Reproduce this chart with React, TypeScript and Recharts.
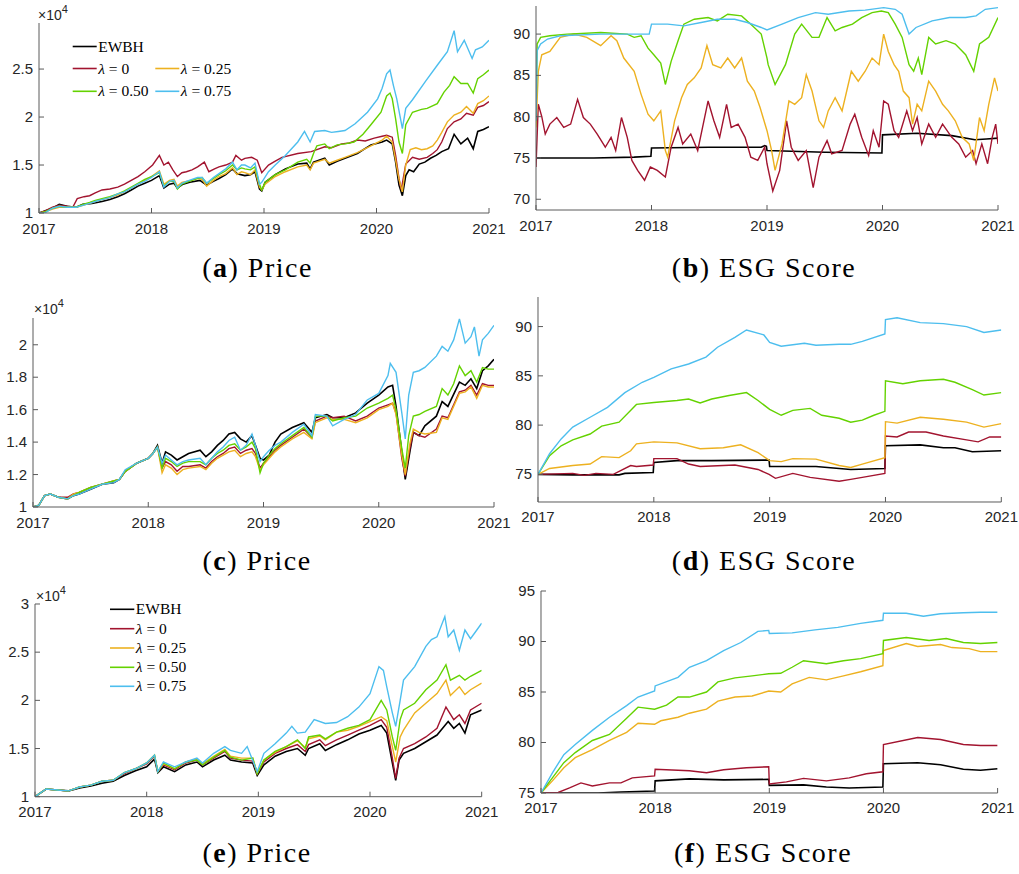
import React from 'react';
import { LineChart, Line, XAxis, YAxis } from 'recharts';

type Pt = [number, number];

const YEARS = [2017, 2018, 2019, 2020, 2021];
const SERIES_NAMES = ['EWBH', 'λ = 0', 'λ = 0.25', 'λ = 0.50', 'λ = 0.75'];
const COLORS = ['#000000', '#A2142F', '#EDB120', '#64D200', '#4DBEEE'];

const PRICE_TICKS_A = [1, 1.5, 2, 2.5];
const ESG_TICKS_B = [70, 75, 80, 85, 90];
const PRICE_TICKS_C = [1, 1.2, 1.4, 1.6, 1.8, 2];
const ESG_TICKS_D = [75, 80, 85, 90];
const PRICE_TICKS_E = [1, 1.5, 2, 2.5, 3];
const ESG_TICKS_F = [75, 80, 85, 90, 95];

// ---------- Panel (a): Price (x 10^4) ----------
const A_EWBH: Pt[] = [[2017.0,1.0],[2017.05,1.02],[2017.12,1.05],[2017.18,1.09],[2017.25,1.07],[2017.33,1.06],[2017.39,1.09],[2017.47,1.10],[2017.56,1.12],[2017.63,1.14],[2017.7,1.17],[2017.76,1.20],[2017.82,1.24],[2017.88,1.28],[2017.94,1.31],[2018.0,1.34],[2018.07,1.39],[2018.11,1.26],[2018.16,1.30],[2018.2,1.31],[2018.23,1.26],[2018.28,1.30],[2018.34,1.32],[2018.43,1.34],[2018.49,1.29],[2018.55,1.33],[2018.6,1.36],[2018.66,1.40],[2018.72,1.46],[2018.76,1.41],[2018.83,1.39],[2018.88,1.40],[2018.92,1.43],[2018.96,1.25],[2018.98,1.23],[2019.01,1.32],[2019.1,1.40],[2019.19,1.46],[2019.3,1.51],[2019.38,1.52],[2019.41,1.46],[2019.44,1.53],[2019.54,1.57],[2019.58,1.50],[2019.65,1.54],[2019.72,1.57],[2019.83,1.62],[2019.95,1.71],[2020.05,1.74],[2020.09,1.76],[2020.14,1.72],[2020.17,1.53],[2020.2,1.29],[2020.23,1.18],[2020.26,1.39],[2020.29,1.45],[2020.33,1.43],[2020.38,1.51],[2020.43,1.53],[2020.48,1.57],[2020.53,1.60],[2020.58,1.64],[2020.64,1.67],[2020.69,1.82],[2020.75,1.72],[2020.81,1.78],[2020.86,1.67],[2020.9,1.85],[2020.95,1.87],[2021.0,1.90]];
const A_L0: Pt[] = [[2017.0,1.0],[2017.05,1.02],[2017.12,1.06],[2017.18,1.08],[2017.25,1.07],[2017.3,1.06],[2017.34,1.15],[2017.4,1.17],[2017.45,1.18],[2017.5,1.21],[2017.56,1.24],[2017.63,1.25],[2017.7,1.27],[2017.76,1.30],[2017.82,1.34],[2017.88,1.38],[2017.94,1.43],[2018.01,1.50],[2018.07,1.60],[2018.11,1.50],[2018.15,1.53],[2018.19,1.45],[2018.23,1.38],[2018.27,1.42],[2018.31,1.43],[2018.36,1.45],[2018.41,1.48],[2018.47,1.53],[2018.51,1.43],[2018.56,1.46],[2018.6,1.48],[2018.66,1.50],[2018.72,1.53],[2018.75,1.60],[2018.8,1.55],[2018.83,1.57],[2018.89,1.58],[2018.94,1.55],[2018.98,1.42],[2019.04,1.50],[2019.1,1.54],[2019.16,1.58],[2019.3,1.62],[2019.42,1.64],[2019.47,1.66],[2019.54,1.69],[2019.6,1.68],[2019.69,1.72],[2019.76,1.73],[2019.83,1.76],[2019.9,1.75],[2019.98,1.78],[2020.05,1.80],[2020.09,1.81],[2020.14,1.79],[2020.17,1.60],[2020.2,1.36],[2020.22,1.24],[2020.26,1.51],[2020.32,1.58],[2020.38,1.56],[2020.45,1.58],[2020.5,1.62],[2020.54,1.66],[2020.58,1.74],[2020.63,1.88],[2020.69,1.95],[2020.75,1.98],[2020.8,2.04],[2020.86,2.02],[2020.9,2.10],[2020.95,2.12],[2021.0,2.16]];
const A_L25: Pt[] = [[2017.0,1.0],[2017.05,1.01],[2017.12,1.04],[2017.18,1.06],[2017.25,1.06],[2017.33,1.06],[2017.39,1.08],[2017.45,1.10],[2017.5,1.12],[2017.56,1.14],[2017.63,1.16],[2017.7,1.19],[2017.76,1.22],[2017.82,1.26],[2017.88,1.30],[2017.94,1.34],[2018.0,1.38],[2018.07,1.44],[2018.11,1.30],[2018.16,1.34],[2018.2,1.35],[2018.23,1.28],[2018.27,1.32],[2018.31,1.33],[2018.36,1.34],[2018.41,1.36],[2018.45,1.35],[2018.49,1.28],[2018.55,1.34],[2018.6,1.38],[2018.66,1.41],[2018.72,1.47],[2018.76,1.40],[2018.8,1.43],[2018.83,1.42],[2018.88,1.40],[2018.92,1.45],[2018.96,1.27],[2018.98,1.24],[2019.01,1.30],[2019.1,1.38],[2019.19,1.43],[2019.3,1.48],[2019.38,1.50],[2019.41,1.45],[2019.44,1.52],[2019.54,1.56],[2019.58,1.52],[2019.65,1.55],[2019.72,1.58],[2019.83,1.63],[2019.95,1.70],[2020.05,1.76],[2020.09,1.80],[2020.14,1.74],[2020.17,1.55],[2020.2,1.35],[2020.23,1.22],[2020.26,1.50],[2020.3,1.66],[2020.35,1.68],[2020.4,1.66],[2020.45,1.67],[2020.5,1.70],[2020.54,1.76],[2020.58,1.84],[2020.63,1.95],[2020.69,2.02],[2020.75,2.05],[2020.8,2.11],[2020.86,2.04],[2020.9,2.14],[2020.95,2.17],[2021.0,2.22]];
const A_L50: Pt[] = [[2017.0,1.0],[2017.05,1.01],[2017.12,1.05],[2017.18,1.07],[2017.25,1.06],[2017.33,1.06],[2017.39,1.09],[2017.45,1.11],[2017.5,1.13],[2017.56,1.15],[2017.63,1.17],[2017.7,1.20],[2017.76,1.23],[2017.82,1.27],[2017.88,1.31],[2017.94,1.35],[2018.0,1.38],[2018.07,1.42],[2018.11,1.28],[2018.16,1.33],[2018.2,1.33],[2018.23,1.25],[2018.27,1.30],[2018.31,1.32],[2018.36,1.34],[2018.41,1.36],[2018.45,1.37],[2018.49,1.31],[2018.55,1.36],[2018.6,1.40],[2018.66,1.44],[2018.72,1.50],[2018.76,1.45],[2018.8,1.47],[2018.83,1.46],[2018.88,1.45],[2018.92,1.48],[2018.96,1.30],[2018.98,1.24],[2019.01,1.32],[2019.1,1.40],[2019.19,1.45],[2019.3,1.53],[2019.38,1.56],[2019.41,1.52],[2019.44,1.62],[2019.47,1.70],[2019.54,1.72],[2019.58,1.67],[2019.65,1.71],[2019.72,1.72],[2019.8,1.74],[2019.88,1.82],[2019.95,1.92],[2020.04,2.05],[2020.09,2.22],[2020.12,2.25],[2020.14,2.19],[2020.17,1.98],[2020.2,1.74],[2020.23,1.62],[2020.26,1.92],[2020.32,2.05],[2020.4,2.08],[2020.45,2.09],[2020.54,2.14],[2020.6,2.26],[2020.65,2.33],[2020.69,2.42],[2020.75,2.35],[2020.81,2.35],[2020.86,2.25],[2020.9,2.40],[2020.95,2.44],[2021.0,2.49]];
const A_L75: Pt[] = [[2017.0,1.0],[2017.05,1.0],[2017.12,1.05],[2017.18,1.07],[2017.25,1.06],[2017.33,1.06],[2017.39,1.08],[2017.45,1.10],[2017.5,1.12],[2017.56,1.14],[2017.63,1.16],[2017.7,1.20],[2017.76,1.22],[2017.82,1.26],[2017.88,1.30],[2017.94,1.33],[2018.0,1.37],[2018.07,1.43],[2018.11,1.27],[2018.16,1.33],[2018.2,1.34],[2018.23,1.26],[2018.27,1.31],[2018.31,1.33],[2018.36,1.35],[2018.41,1.37],[2018.45,1.37],[2018.49,1.31],[2018.55,1.37],[2018.6,1.41],[2018.66,1.46],[2018.72,1.53],[2018.76,1.45],[2018.8,1.50],[2018.83,1.50],[2018.88,1.47],[2018.92,1.52],[2018.96,1.30],[2018.98,1.32],[2019.04,1.43],[2019.1,1.50],[2019.19,1.60],[2019.3,1.74],[2019.36,1.85],[2019.41,1.74],[2019.45,1.85],[2019.54,1.86],[2019.6,1.84],[2019.66,1.85],[2019.72,1.86],[2019.81,1.93],[2019.92,2.05],[2020.01,2.19],[2020.05,2.30],[2020.09,2.45],[2020.12,2.49],[2020.15,2.33],[2020.18,2.19],[2020.23,1.88],[2020.26,2.09],[2020.32,2.18],[2020.44,2.38],[2020.54,2.54],[2020.63,2.68],[2020.69,2.90],[2020.72,2.68],[2020.78,2.80],[2020.85,2.61],[2020.88,2.70],[2020.94,2.73],[2021.0,2.80]];

// ---------- Panel (b): ESG Score ----------
const B_EWBH: Pt[] = [[2017.0,75.0],[2017.5,75.0],[2017.85,75.1],[2017.995,75.2],[2018.0,76.2],[2018.5,76.3],[2018.95,76.3],[2018.98,76.5],[2018.995,76.4],[2019.0,75.9],[2019.5,75.7],[2019.995,75.6],[2020.0,77.8],[2020.3,78.0],[2020.6,77.7],[2020.8,77.2],[2020.9,77.3],[2021.0,77.4]];
const B_L0: Pt[] = [[2017.0,73.9],[2017.02,81.5],[2017.05,80.0],[2017.08,77.9],[2017.12,79.1],[2017.18,79.9],[2017.24,78.7],[2017.3,79.1],[2017.36,82.1],[2017.41,79.9],[2017.47,79.1],[2017.53,77.9],[2017.6,76.3],[2017.65,77.5],[2017.69,75.9],[2017.74,79.9],[2017.79,77.5],[2017.83,74.7],[2017.88,73.5],[2017.94,72.3],[2017.99,73.9],[2018.05,73.5],[2018.12,72.7],[2018.17,76.3],[2018.23,78.7],[2018.27,76.7],[2018.34,77.9],[2018.4,75.9],[2018.49,81.9],[2018.54,79.5],[2018.59,77.5],[2018.65,81.5],[2018.69,78.7],[2018.75,79.1],[2018.81,77.5],[2018.86,75.1],[2018.92,74.7],[2018.98,76.3],[2019.0,74.3],[2019.05,71.0],[2019.11,73.5],[2019.17,79.5],[2019.21,76.3],[2019.27,74.7],[2019.34,75.9],[2019.4,71.4],[2019.45,75.1],[2019.52,77.1],[2019.56,75.5],[2019.65,75.9],[2019.72,79.1],[2019.76,80.3],[2019.82,77.5],[2019.88,75.3],[2019.92,78.3],[2019.97,76.3],[2020.01,81.9],[2020.05,81.5],[2020.1,78.3],[2020.14,77.5],[2020.21,80.7],[2020.26,78.3],[2020.3,79.9],[2020.34,76.7],[2020.4,79.1],[2020.46,77.5],[2020.52,79.1],[2020.6,77.5],[2020.66,76.7],[2020.72,75.1],[2020.78,75.9],[2020.81,74.3],[2020.86,76.7],[2020.91,74.3],[2020.95,77.5],[2020.98,79.1],[2021.0,76.7]];
const B_L25: Pt[] = [[2017.0,78.7],[2017.02,85.5],[2017.05,87.5],[2017.12,87.9],[2017.21,89.6],[2017.33,90.0],[2017.44,89.6],[2017.56,88.6],[2017.65,89.8],[2017.7,89.2],[2017.76,87.1],[2017.85,85.5],[2017.91,82.7],[2017.97,80.3],[2018.02,79.5],[2018.08,80.7],[2018.12,75.9],[2018.14,75.1],[2018.2,79.5],[2018.26,82.3],[2018.31,83.9],[2018.37,84.7],[2018.43,85.9],[2018.48,88.6],[2018.53,86.3],[2018.6,85.9],[2018.66,87.1],[2018.72,85.9],[2018.78,87.1],[2018.83,84.3],[2018.89,83.1],[2018.94,81.1],[2019.0,78.3],[2019.04,75.9],[2019.07,73.5],[2019.13,76.7],[2019.19,81.9],[2019.24,81.5],[2019.3,82.3],[2019.34,85.1],[2019.39,83.1],[2019.45,79.5],[2019.49,78.7],[2019.53,80.7],[2019.59,82.3],[2019.65,80.7],[2019.73,85.5],[2019.79,84.3],[2019.85,85.5],[2019.91,87.1],[2019.97,86.3],[2020.01,90.0],[2020.05,87.9],[2020.1,86.3],[2020.14,85.5],[2020.18,83.1],[2020.23,82.3],[2020.26,79.1],[2020.3,81.5],[2020.34,80.7],[2020.4,84.3],[2020.46,83.1],[2020.52,81.5],[2020.57,80.7],[2020.63,79.5],[2020.69,77.5],[2020.75,76.7],[2020.79,74.7],[2020.84,79.9],[2020.88,78.3],[2020.92,81.5],[2020.97,84.7],[2021.0,83.1]];
const B_L50: Pt[] = [[2017.0,79.5],[2017.01,88.8],[2017.04,89.6],[2017.12,89.8],[2017.27,90.0],[2017.56,90.2],[2017.79,90.0],[2017.85,89.6],[2017.91,89.8],[2017.97,88.3],[2018.02,87.5],[2018.08,86.5],[2018.12,83.9],[2018.17,86.7],[2018.23,89.2],[2018.28,91.2],[2018.37,91.8],[2018.49,92.0],[2018.57,91.6],[2018.66,92.4],[2018.78,92.2],[2018.86,91.2],[2018.95,90.0],[2019.0,87.1],[2019.01,86.3],[2019.07,83.9],[2019.16,86.3],[2019.24,90.0],[2019.3,91.2],[2019.39,89.6],[2019.45,89.6],[2019.52,92.0],[2019.59,90.4],[2019.65,90.8],[2019.74,91.2],[2019.82,92.0],[2019.91,92.6],[2019.99,92.8],[2020.05,92.6],[2020.11,91.2],[2020.17,89.6],[2020.23,86.3],[2020.27,85.5],[2020.31,87.1],[2020.34,85.1],[2020.4,89.6],[2020.46,88.8],[2020.55,89.2],[2020.63,88.8],[2020.72,87.5],[2020.79,85.5],[2020.84,88.8],[2020.92,89.6],[2021.0,92.0]];
const B_L75: Pt[] = [[2017.0,79.5],[2017.01,88.0],[2017.04,88.8],[2017.1,89.4],[2017.21,89.8],[2017.56,90.0],[2017.98,90.0],[2018.0,91.2],[2018.14,91.2],[2018.28,91.0],[2018.43,91.4],[2018.57,91.8],[2018.72,91.8],[2018.83,91.4],[2018.95,90.8],[2019.0,90.5],[2019.13,91.2],[2019.27,92.0],[2019.42,92.6],[2019.53,92.4],[2019.71,92.8],[2019.85,92.9],[2020.01,93.2],[2020.11,93.0],[2020.17,92.4],[2020.21,90.8],[2020.23,90.0],[2020.29,90.8],[2020.43,91.6],[2020.58,92.0],[2020.72,92.0],[2020.81,92.2],[2020.89,93.0],[2021.0,93.2]];

// ---------- Panel (c): Price (x 10^4) ----------
const C_EWBH: Pt[] = [[2017.0,1.0],[2017.05,1.01],[2017.1,1.07],[2017.15,1.08],[2017.22,1.06],[2017.3,1.05],[2017.35,1.07],[2017.4,1.08],[2017.5,1.11],[2017.6,1.14],[2017.7,1.15],[2017.75,1.17],[2017.8,1.22],[2017.9,1.27],[2018.0,1.30],[2018.04,1.33],[2018.08,1.38],[2018.12,1.27],[2018.15,1.34],[2018.2,1.32],[2018.25,1.29],[2018.3,1.31],[2018.35,1.33],[2018.45,1.35],[2018.5,1.31],[2018.55,1.34],[2018.6,1.38],[2018.65,1.41],[2018.7,1.45],[2018.75,1.46],[2018.8,1.42],[2018.85,1.40],[2018.9,1.44],[2018.93,1.38],[2018.97,1.30],[2019.0,1.29],[2019.05,1.32],[2019.1,1.40],[2019.15,1.45],[2019.25,1.49],[2019.35,1.52],[2019.42,1.46],[2019.45,1.55],[2019.55,1.57],[2019.6,1.55],[2019.7,1.55],[2019.8,1.58],[2019.9,1.64],[2020.0,1.69],[2020.08,1.74],[2020.12,1.75],[2020.15,1.62],[2020.2,1.34],[2020.23,1.17],[2020.27,1.34],[2020.3,1.46],[2020.35,1.44],[2020.4,1.50],[2020.5,1.56],[2020.55,1.65],[2020.6,1.62],[2020.7,1.77],[2020.75,1.75],[2020.8,1.79],[2020.85,1.73],[2020.9,1.84],[2020.95,1.87],[2021.0,1.91]];
const C_L0: Pt[] = [[2017.0,1.0],[2017.05,1.01],[2017.1,1.07],[2017.15,1.08],[2017.22,1.06],[2017.3,1.06],[2017.35,1.08],[2017.4,1.09],[2017.5,1.12],[2017.6,1.14],[2017.7,1.16],[2017.75,1.17],[2017.8,1.22],[2017.9,1.27],[2018.0,1.30],[2018.04,1.33],[2018.08,1.37],[2018.12,1.24],[2018.15,1.28],[2018.2,1.26],[2018.25,1.22],[2018.3,1.25],[2018.35,1.25],[2018.45,1.26],[2018.5,1.24],[2018.55,1.28],[2018.6,1.31],[2018.65,1.33],[2018.7,1.36],[2018.75,1.37],[2018.8,1.33],[2018.85,1.35],[2018.9,1.36],[2018.93,1.33],[2018.97,1.24],[2019.0,1.27],[2019.05,1.31],[2019.1,1.35],[2019.15,1.38],[2019.25,1.43],[2019.35,1.48],[2019.42,1.43],[2019.45,1.53],[2019.55,1.56],[2019.6,1.55],[2019.7,1.56],[2019.8,1.53],[2019.9,1.56],[2020.0,1.61],[2020.08,1.63],[2020.12,1.64],[2020.15,1.58],[2020.2,1.30],[2020.23,1.19],[2020.27,1.36],[2020.3,1.46],[2020.35,1.44],[2020.4,1.43],[2020.5,1.48],[2020.55,1.56],[2020.6,1.55],[2020.7,1.71],[2020.75,1.72],[2020.8,1.75],[2020.85,1.69],[2020.9,1.76],[2020.95,1.75],[2021.0,1.75]];
const C_L25: Pt[] = [[2017.0,1.0],[2017.05,1.01],[2017.1,1.07],[2017.15,1.08],[2017.22,1.06],[2017.3,1.05],[2017.35,1.08],[2017.4,1.09],[2017.5,1.12],[2017.6,1.14],[2017.7,1.16],[2017.75,1.17],[2017.8,1.22],[2017.9,1.27],[2018.0,1.30],[2018.04,1.33],[2018.08,1.37],[2018.12,1.21],[2018.15,1.26],[2018.2,1.24],[2018.25,1.20],[2018.3,1.23],[2018.35,1.24],[2018.45,1.25],[2018.5,1.23],[2018.55,1.27],[2018.6,1.30],[2018.65,1.32],[2018.7,1.34],[2018.75,1.35],[2018.8,1.31],[2018.85,1.33],[2018.9,1.34],[2018.93,1.31],[2018.97,1.23],[2019.0,1.26],[2019.05,1.30],[2019.1,1.34],[2019.15,1.37],[2019.25,1.42],[2019.35,1.46],[2019.42,1.42],[2019.45,1.52],[2019.55,1.55],[2019.6,1.54],[2019.7,1.54],[2019.8,1.52],[2019.9,1.55],[2020.0,1.60],[2020.08,1.62],[2020.12,1.64],[2020.15,1.57],[2020.2,1.32],[2020.23,1.20],[2020.27,1.39],[2020.3,1.48],[2020.35,1.46],[2020.4,1.45],[2020.5,1.46],[2020.55,1.55],[2020.6,1.54],[2020.7,1.70],[2020.75,1.71],[2020.8,1.74],[2020.85,1.67],[2020.9,1.75],[2020.95,1.74],[2021.0,1.74]];
const C_L50: Pt[] = [[2017.0,1.0],[2017.05,1.01],[2017.1,1.07],[2017.15,1.08],[2017.22,1.06],[2017.3,1.05],[2017.35,1.07],[2017.4,1.09],[2017.5,1.12],[2017.6,1.14],[2017.7,1.16],[2017.75,1.17],[2017.8,1.22],[2017.9,1.27],[2018.0,1.30],[2018.04,1.33],[2018.08,1.37],[2018.12,1.24],[2018.15,1.30],[2018.2,1.28],[2018.25,1.25],[2018.3,1.27],[2018.35,1.28],[2018.45,1.28],[2018.5,1.26],[2018.55,1.30],[2018.6,1.33],[2018.65,1.35],[2018.7,1.38],[2018.75,1.39],[2018.8,1.35],[2018.85,1.37],[2018.9,1.40],[2018.93,1.36],[2018.97,1.21],[2019.0,1.27],[2019.05,1.32],[2019.1,1.36],[2019.15,1.39],[2019.25,1.44],[2019.35,1.49],[2019.42,1.43],[2019.45,1.56],[2019.55,1.56],[2019.6,1.53],[2019.7,1.55],[2019.8,1.56],[2019.9,1.61],[2020.0,1.64],[2020.08,1.67],[2020.12,1.69],[2020.15,1.60],[2020.2,1.36],[2020.23,1.24],[2020.26,1.44],[2020.3,1.56],[2020.35,1.57],[2020.4,1.59],[2020.5,1.62],[2020.55,1.73],[2020.6,1.69],[2020.65,1.76],[2020.7,1.87],[2020.75,1.81],[2020.8,1.84],[2020.85,1.77],[2020.9,1.86],[2020.95,1.85],[2021.0,1.85]];
const C_L75: Pt[] = [[2017.0,1.0],[2017.05,1.01],[2017.1,1.07],[2017.15,1.08],[2017.22,1.06],[2017.3,1.05],[2017.35,1.07],[2017.4,1.08],[2017.5,1.11],[2017.6,1.14],[2017.7,1.15],[2017.75,1.17],[2017.8,1.23],[2017.9,1.27],[2018.0,1.30],[2018.04,1.33],[2018.08,1.37],[2018.12,1.27],[2018.15,1.32],[2018.2,1.29],[2018.25,1.26],[2018.3,1.28],[2018.35,1.29],[2018.45,1.30],[2018.5,1.26],[2018.55,1.30],[2018.6,1.34],[2018.65,1.37],[2018.7,1.41],[2018.75,1.43],[2018.8,1.35],[2018.85,1.38],[2018.9,1.45],[2018.93,1.38],[2018.97,1.28],[2019.0,1.31],[2019.05,1.35],[2019.1,1.38],[2019.15,1.40],[2019.25,1.46],[2019.35,1.51],[2019.42,1.44],[2019.45,1.57],[2019.55,1.56],[2019.6,1.50],[2019.7,1.54],[2019.8,1.57],[2019.9,1.66],[2020.0,1.70],[2020.08,1.81],[2020.1,1.885],[2020.15,1.83],[2020.2,1.58],[2020.23,1.42],[2020.26,1.69],[2020.3,1.83],[2020.35,1.84],[2020.4,1.86],[2020.5,1.93],[2020.55,1.99],[2020.6,1.96],[2020.65,2.03],[2020.7,2.16],[2020.75,2.01],[2020.8,2.05],[2020.83,2.11],[2020.87,1.93],[2020.9,2.03],[2020.95,2.07],[2021.0,2.12]];

// ---------- Panel (d): ESG Score ----------
const D_EWBH: Pt[] = [[2017.0,75.0],[2017.3,74.95],[2017.7,74.95],[2017.75,75.1],[2017.995,75.2],[2018.0,76.2],[2018.2,76.4],[2018.5,76.4],[2018.995,76.45],[2019.0,75.8],[2019.4,75.8],[2019.7,75.5],[2019.995,75.6],[2020.0,77.9],[2020.3,78.0],[2020.5,77.7],[2020.6,77.7],[2020.75,77.3],[2021.0,77.4]];
const D_L0: Pt[] = [[2017.0,75.0],[2017.3,75.1],[2017.4,74.9],[2017.5,75.1],[2017.65,75.0],[2017.8,75.9],[2017.85,75.8],[2017.995,75.95],[2018.0,76.6],[2018.2,76.6],[2018.3,76.05],[2018.4,75.8],[2018.7,75.95],[2018.9,75.5],[2018.995,75.0],[2019.05,74.6],[2019.2,75.1],[2019.35,74.7],[2019.6,74.3],[2019.7,74.5],[2019.8,74.7],[2019.995,75.1],[2020.0,78.9],[2020.1,78.8],[2020.2,79.3],[2020.35,79.3],[2020.5,78.9],[2020.7,78.5],[2020.8,78.3],[2020.9,78.8],[2021.0,78.8]];
const D_L25: Pt[] = [[2017.0,75.0],[2017.1,75.6],[2017.3,75.9],[2017.45,76.05],[2017.55,76.8],[2017.7,76.7],[2017.8,77.4],[2017.85,78.1],[2018.0,78.3],[2018.2,78.2],[2018.4,77.6],[2018.6,77.7],[2018.75,78.0],[2018.9,77.2],[2019.0,76.4],[2019.1,76.3],[2019.2,76.6],[2019.4,76.55],[2019.6,75.9],[2019.7,75.7],[2019.8,76.05],[2019.995,76.7],[2020.0,80.35],[2020.1,80.2],[2020.3,80.8],[2020.5,80.6],[2020.7,80.3],[2020.85,79.8],[2021.0,80.15]];
const D_L50: Pt[] = [[2017.0,75.0],[2017.1,76.9],[2017.2,77.9],[2017.3,78.5],[2017.45,79.1],[2017.55,79.9],[2017.7,80.3],[2017.85,82.1],[2018.0,82.3],[2018.2,82.5],[2018.3,82.65],[2018.4,82.25],[2018.5,82.65],[2018.65,83.0],[2018.8,83.3],[2018.9,82.5],[2019.0,81.6],[2019.1,81.0],[2019.2,81.5],[2019.35,81.7],[2019.45,81.0],[2019.6,80.7],[2019.7,80.3],[2019.8,80.5],[2019.9,81.0],[2019.995,81.4],[2020.0,84.5],[2020.15,84.2],[2020.3,84.5],[2020.5,84.65],[2020.6,84.35],[2020.75,83.6],[2020.85,83.05],[2021.0,83.3]];
const D_L75: Pt[] = [[2017.0,75.0],[2017.1,77.1],[2017.2,78.6],[2017.3,79.8],[2017.45,80.8],[2017.6,81.8],[2017.75,83.3],[2017.9,84.35],[2018.0,84.85],[2018.15,85.7],[2018.3,86.2],[2018.45,86.9],[2018.55,87.9],[2018.7,88.9],[2018.8,89.65],[2018.95,89.15],[2019.0,88.4],[2019.1,88.0],[2019.3,88.3],[2019.4,88.1],[2019.6,88.2],[2019.7,88.2],[2019.8,88.5],[2019.995,89.25],[2020.0,90.7],[2020.1,90.9],[2020.3,90.4],[2020.5,90.3],[2020.7,90.0],[2020.85,89.4],[2021.0,89.65]];

// ---------- Panel (e): Price (x 10^4) ----------
const E_EWBH: Pt[] = [[2017.0,1.0],[2017.1,1.08],[2017.2,1.07],[2017.3,1.06],[2017.4,1.09],[2017.5,1.11],[2017.6,1.14],[2017.7,1.16],[2017.8,1.22],[2017.9,1.27],[2018.0,1.31],[2018.07,1.39],[2018.1,1.25],[2018.15,1.31],[2018.25,1.26],[2018.35,1.33],[2018.45,1.36],[2018.5,1.31],[2018.6,1.38],[2018.7,1.43],[2018.75,1.38],[2018.85,1.36],[2018.95,1.35],[2018.99,1.22],[2019.05,1.33],[2019.15,1.42],[2019.25,1.47],[2019.35,1.50],[2019.42,1.43],[2019.45,1.50],[2019.55,1.55],[2019.6,1.48],[2019.7,1.54],[2019.8,1.59],[2019.9,1.65],[2020.0,1.69],[2020.1,1.74],[2020.15,1.66],[2020.2,1.35],[2020.23,1.17],[2020.26,1.38],[2020.3,1.45],[2020.4,1.50],[2020.5,1.57],[2020.6,1.64],[2020.65,1.71],[2020.7,1.78],[2020.75,1.71],[2020.8,1.76],[2020.85,1.66],[2020.9,1.85],[2021.0,1.90]];
const E_L0: Pt[] = [[2017.0,1.0],[2017.1,1.08],[2017.2,1.07],[2017.3,1.06],[2017.4,1.10],[2017.5,1.12],[2017.6,1.16],[2017.7,1.17],[2017.8,1.24],[2017.9,1.29],[2018.0,1.34],[2018.07,1.42],[2018.1,1.26],[2018.15,1.33],[2018.25,1.28],[2018.35,1.35],[2018.45,1.38],[2018.5,1.33],[2018.6,1.40],[2018.7,1.47],[2018.75,1.40],[2018.85,1.38],[2018.95,1.37],[2018.99,1.24],[2019.05,1.36],[2019.15,1.45],[2019.25,1.50],[2019.35,1.54],[2019.42,1.47],[2019.45,1.54],[2019.55,1.59],[2019.6,1.53],[2019.7,1.59],[2019.8,1.64],[2019.9,1.69],[2020.0,1.74],[2020.1,1.80],[2020.15,1.72],[2020.2,1.40],[2020.23,1.19],[2020.26,1.40],[2020.3,1.50],[2020.4,1.55],[2020.5,1.62],[2020.6,1.71],[2020.68,1.93],[2020.75,1.80],[2020.8,1.85],[2020.85,1.76],[2020.9,1.90],[2021.0,1.97]];
const E_L25: Pt[] = [[2017.0,1.0],[2017.1,1.08],[2017.2,1.07],[2017.3,1.06],[2017.4,1.10],[2017.5,1.12],[2017.6,1.16],[2017.7,1.17],[2017.8,1.25],[2017.9,1.29],[2018.0,1.35],[2018.07,1.43],[2018.1,1.26],[2018.15,1.34],[2018.25,1.29],[2018.35,1.36],[2018.45,1.39],[2018.5,1.34],[2018.6,1.42],[2018.7,1.49],[2018.75,1.42],[2018.85,1.40],[2018.95,1.40],[2018.99,1.24],[2019.05,1.38],[2019.15,1.46],[2019.25,1.52],[2019.35,1.58],[2019.42,1.51],[2019.45,1.60],[2019.55,1.63],[2019.6,1.59],[2019.7,1.67],[2019.8,1.69],[2019.9,1.73],[2020.0,1.78],[2020.1,1.83],[2020.15,1.79],[2020.2,1.52],[2020.23,1.36],[2020.27,1.62],[2020.3,1.69],[2020.4,1.87],[2020.5,1.97],[2020.6,2.07],[2020.68,2.21],[2020.72,2.05],[2020.8,2.14],[2020.85,2.06],[2020.9,2.11],[2021.0,2.18]];
const E_L50: Pt[] = [[2017.0,1.0],[2017.1,1.08],[2017.2,1.07],[2017.3,1.06],[2017.4,1.10],[2017.5,1.12],[2017.6,1.16],[2017.7,1.17],[2017.8,1.25],[2017.9,1.29],[2018.0,1.35],[2018.07,1.43],[2018.1,1.26],[2018.15,1.35],[2018.25,1.29],[2018.35,1.36],[2018.45,1.38],[2018.5,1.33],[2018.6,1.41],[2018.7,1.48],[2018.75,1.41],[2018.85,1.38],[2018.95,1.40],[2018.99,1.24],[2019.05,1.38],[2019.15,1.47],[2019.25,1.52],[2019.35,1.59],[2019.42,1.50],[2019.45,1.62],[2019.55,1.64],[2019.6,1.60],[2019.7,1.67],[2019.8,1.71],[2019.9,1.74],[2020.0,1.80],[2020.1,2.00],[2020.15,1.90],[2020.2,1.62],[2020.23,1.48],[2020.27,1.80],[2020.3,1.90],[2020.4,1.97],[2020.5,2.11],[2020.6,2.21],[2020.68,2.37],[2020.72,2.21],[2020.8,2.26],[2020.85,2.21],[2020.9,2.25],[2021.0,2.31]];
const E_L75: Pt[] = [[2017.0,1.0],[2017.1,1.08],[2017.2,1.07],[2017.3,1.06],[2017.4,1.10],[2017.5,1.12],[2017.6,1.16],[2017.7,1.17],[2017.8,1.25],[2017.9,1.29],[2018.0,1.35],[2018.07,1.43],[2018.1,1.26],[2018.15,1.36],[2018.25,1.31],[2018.35,1.36],[2018.45,1.40],[2018.5,1.35],[2018.6,1.45],[2018.7,1.52],[2018.75,1.48],[2018.85,1.45],[2018.9,1.52],[2018.99,1.26],[2019.05,1.45],[2019.15,1.55],[2019.25,1.66],[2019.3,1.73],[2019.35,1.66],[2019.42,1.67],[2019.5,1.80],[2019.6,1.76],[2019.7,1.77],[2019.8,1.83],[2019.9,1.93],[2020.0,2.07],[2020.08,2.35],[2020.12,2.31],[2020.15,2.14],[2020.2,1.87],[2020.23,1.73],[2020.27,2.00],[2020.3,2.21],[2020.4,2.35],[2020.5,2.56],[2020.55,2.63],[2020.6,2.66],[2020.67,2.87],[2020.7,2.66],[2020.75,2.73],[2020.8,2.52],[2020.85,2.73],[2020.9,2.64],[2020.95,2.72],[2021.0,2.80]];

// ---------- Panel (f): ESG Score ----------
const F_EWBH: Pt[] = [[2017.0,75.0],[2017.5,75.0],[2017.7,75.1],[2017.995,75.2],[2018.0,76.2],[2018.3,76.4],[2018.6,76.3],[2018.995,76.35],[2019.0,75.75],[2019.3,75.8],[2019.5,75.6],[2019.7,75.5],[2019.995,75.6],[2020.0,77.9],[2020.3,78.0],[2020.5,77.8],[2020.7,77.35],[2020.85,77.25],[2021.0,77.4]];
const F_L0: Pt[] = [[2017.0,75.0],[2017.15,75.05],[2017.25,75.5],[2017.35,76.0],[2017.45,75.7],[2017.6,76.0],[2017.7,76.0],[2017.8,76.5],[2017.995,76.7],[2018.0,77.35],[2018.3,77.2],[2018.45,77.0],[2018.6,77.3],[2018.8,77.5],[2018.995,77.6],[2019.0,75.9],[2019.15,76.1],[2019.3,76.45],[2019.5,76.2],[2019.7,76.5],[2019.85,76.9],[2019.995,77.1],[2020.0,79.8],[2020.3,80.5],[2020.5,80.3],[2020.7,79.8],[2020.85,79.7],[2021.0,79.7]];
const F_L25: Pt[] = [[2017.0,75.0],[2017.1,76.2],[2017.2,77.5],[2017.3,78.5],[2017.45,79.3],[2017.6,80.2],[2017.75,81.0],[2017.85,81.9],[2017.995,81.8],[2018.05,82.15],[2018.2,82.5],[2018.3,82.9],[2018.45,83.3],[2018.55,84.1],[2018.7,84.5],[2018.85,84.6],[2018.995,85.1],[2019.1,85.0],[2019.2,85.8],[2019.35,86.45],[2019.5,86.2],[2019.65,86.6],[2019.8,87.0],[2019.995,87.6],[2020.0,89.1],[2020.2,89.8],[2020.3,89.5],[2020.5,89.7],[2020.6,89.4],[2020.75,89.3],[2020.85,89.0],[2021.0,89.0]];
const F_L50: Pt[] = [[2017.0,75.0],[2017.1,76.5],[2017.2,78.0],[2017.3,79.0],[2017.45,80.2],[2017.6,80.8],[2017.75,82.4],[2017.85,83.5],[2017.995,83.3],[2018.1,83.7],[2018.2,84.5],[2018.3,84.5],[2018.45,85.0],[2018.55,86.0],[2018.7,86.4],[2018.85,86.6],[2018.995,86.8],[2019.1,86.85],[2019.2,87.45],[2019.3,88.1],[2019.5,87.8],[2019.65,88.1],[2019.8,88.3],[2019.995,88.8],[2020.0,90.1],[2020.2,90.4],[2020.4,90.1],[2020.55,90.3],[2020.7,89.9],[2020.85,89.8],[2021.0,89.9]];
const F_L75: Pt[] = [[2017.0,75.0],[2017.1,77.0],[2017.2,78.8],[2017.3,79.8],[2017.45,81.2],[2017.6,82.5],[2017.75,83.65],[2017.85,84.5],[2017.995,85.1],[2018.0,85.6],[2018.2,86.45],[2018.3,87.45],[2018.45,88.1],[2018.6,89.1],[2018.75,89.9],[2018.9,91.0],[2018.995,91.1],[2019.0,90.8],[2019.2,90.85],[2019.4,91.15],[2019.6,91.4],[2019.8,91.8],[2019.995,92.1],[2020.0,92.8],[2020.2,92.8],[2020.35,92.5],[2020.5,92.75],[2020.7,92.85],[2020.85,92.9],[2021.0,92.9]];

const FONT_SANS = '"Liberation Sans", Arial, Helvetica, sans-serif';
const FONT_SERIF = '"Liberation Serif", "Times New Roman", serif';
const AXIS = '#5a5a5a';
const TXT = '#262626';

function XTick(props: any) {
  const { x, y, payload } = props;
  return (
    <g>
      <line x1={x} y1={y} x2={x} y2={y - 5} stroke={AXIS} strokeWidth={1} />
      <text x={x} y={y + 20.5} textAnchor="middle" fontFamily={FONT_SANS} fontSize={15} fill={TXT}>
        {payload.value}
      </text>
    </g>
  );
}

function YTick(props: any) {
  const { x, y, payload } = props;
  return (
    <g>
      <line x1={x} y1={y} x2={x + 5} y2={y} stroke={AXIS} strokeWidth={1} />
      <text x={x - 6} y={y + 5} textAnchor="end" fontFamily={FONT_SANS} fontSize={15} fill={TXT}>
        {payload.value}
      </text>
    </g>
  );
}

type PanelProps = {
  rect: [number, number, number, number];
  domain: [number, number];
  yTicks: number[];
  series: Pt[][];
};

function Panel({ rect, domain, yTicks, series }: PanelProps) {
  const [L, T, R, B] = rect;
  const padL = 50;
  const padR = Math.min(26, 1019 - R);
  const padT = Math.min(12, T);
  const padB = 5;
  const xH = 30;
  const width = R - L + padL + padR;
  const height = B - T + padT + padB + xH;
  return (
    <div style={{ position: 'absolute', left: L - padL, top: T - padT, width, height }}>
      <LineChart width={width} height={height} margin={{ top: padT, right: padR, bottom: padB, left: 0 }}>
        <XAxis
          type="number"
          dataKey="t"
          domain={[2017, 2021]}
          ticks={YEARS}
          interval={0}
          allowDataOverflow
          height={xH}
          tickSize={0}
          tickMargin={0}
          tickLine={false}
          axisLine={{ stroke: AXIS, strokeWidth: 1 }}
          tick={<XTick />}
        />
        <YAxis
          type="number"
          domain={domain}
          ticks={yTicks}
          interval={0}
          allowDataOverflow
          width={padL}
          tickSize={0}
          tickMargin={0}
          tickLine={false}
          axisLine={{ stroke: AXIS, strokeWidth: 1 }}
          tick={<YTick />}
        />
        {series.map((s, i) => (
          <Line
            key={SERIES_NAMES[i]}
            name={SERIES_NAMES[i]}
            data={s.map(([t, v]) => ({ t, v }))}
            dataKey="v"
            type="linear"
            stroke={COLORS[i]}
            strokeWidth={i === 0 ? 1.6 : 1.4}
            dot={false}
            activeDot={false}
            isAnimationActive={false}
          />
        ))}
      </LineChart>
    </div>
  );
}

function Caption({ x, y, letter, label }: { x: number; y: number; letter: string; label: string }) {
  return (
    <text x={x} y={y} textAnchor="middle" fontFamily={FONT_SERIF} fontSize={28} letterSpacing={1.5} fill="#000">
      (<tspan fontWeight="bold">{letter}</tspan>) {label}
    </text>
  );
}

function Exponent({ x, y }: { x: number; y: number }) {
  return (
    <text x={x} y={y} fontFamily={FONT_SANS} fontSize={14} fill={TXT}>
      ×10<tspan dy={-7} fontSize={11}>4</tspan>
    </text>
  );
}

function LegendItem({ x, y, idx, lineLen }: { x: number; y: number; idx: number; lineLen: number }) {
  const name = SERIES_NAMES[idx];
  const isLambda = name.startsWith('λ');
  return (
    <g>
      <line x1={x} y1={y} x2={x + lineLen} y2={y} stroke={COLORS[idx]} strokeWidth={1.6} />
      <text x={x + lineLen + 1.5} y={y + 5} fontFamily={FONT_SERIF} fontSize={15.5} fill="#000">
        {isLambda ? (
          <>
            <tspan fontStyle="italic">λ</tspan>
            {name.slice(1)}
          </>
        ) : (
          name
        )}
      </text>
    </g>
  );
}

export default function App() {
  return (
    <div
      style={{
        position: 'absolute',
        left: 0,
        top: 0,
        width: 1019,
        height: 874,
        background: '#fff',
        overflow: 'hidden',
      }}
    >
      <Panel rect={[39, 22.7, 489, 212.7]} domain={[1, 2.98]} yTicks={PRICE_TICKS_A} series={[A_EWBH, A_L0, A_L25, A_L50, A_L75]} />
      <Panel rect={[536, 6, 998, 210]} domain={[68.7, 93.4]} yTicks={ESG_TICKS_B} series={[B_EWBH, B_L0, B_L25, B_L50, B_L75]} />
      <Panel rect={[33.3, 317.7, 494.3, 506.7]} domain={[1, 2.165]} yTicks={PRICE_TICKS_C} series={[C_EWBH, C_L0, C_L25, C_L50, C_L75]} />
      <Panel rect={[537.7, 296.7, 1001, 501.7]} domain={[72.2, 93]} yTicks={ESG_TICKS_D} series={[D_EWBH, D_L0, D_L25, D_L50, D_L75]} />
      <Panel rect={[35, 604, 481.7, 796.7]} domain={[1, 3]} yTicks={PRICE_TICKS_E} series={[E_EWBH, E_L0, E_L25, E_L50, E_L75]} />
      <Panel rect={[540.7, 590.7, 997.3, 792.7]} domain={[75, 95]} yTicks={ESG_TICKS_F} series={[F_EWBH, F_L0, F_L25, F_L50, F_L75]} />

      <svg
        width={1019}
        height={874}
        style={{ position: 'absolute', left: 0, top: 0, pointerEvents: 'none' }}
      >
        <Exponent x={38} y={19.5} />
        <Exponent x={34} y={314} />
        <Exponent x={36} y={600.5} />

        <LegendItem x={72.7} y={46.5} idx={0} lineLen={24} />
        <LegendItem x={72.7} y={68.5} idx={1} lineLen={24} />
        <LegendItem x={155.3} y={68.5} idx={2} lineLen={24} />
        <LegendItem x={72.7} y={91.3} idx={3} lineLen={24} />
        <LegendItem x={155.3} y={91.3} idx={4} lineLen={24} />

        <LegendItem x={110} y={609.3} idx={0} lineLen={24.3} />
        <LegendItem x={110} y={628.7} idx={1} lineLen={24.3} />
        <LegendItem x={110} y={648} idx={2} lineLen={24.3} />
        <LegendItem x={110} y={667.3} idx={3} lineLen={24.3} />
        <LegendItem x={110} y={686.3} idx={4} lineLen={24.3} />

        <Caption x={257.5} y={276.5} letter="a" label="Price" />
        <Caption x={764} y={276.5} letter="b" label="ESG Score" />
        <Caption x={257} y={570} letter="c" label="Price" />
        <Caption x={764} y={570} letter="d" label="ESG Score" />
        <Caption x={257} y={861.5} letter="e" label="Price" />
        <Caption x={763} y={861.5} letter="f" label="ESG Score" />
      </svg>
    </div>
  );
}
